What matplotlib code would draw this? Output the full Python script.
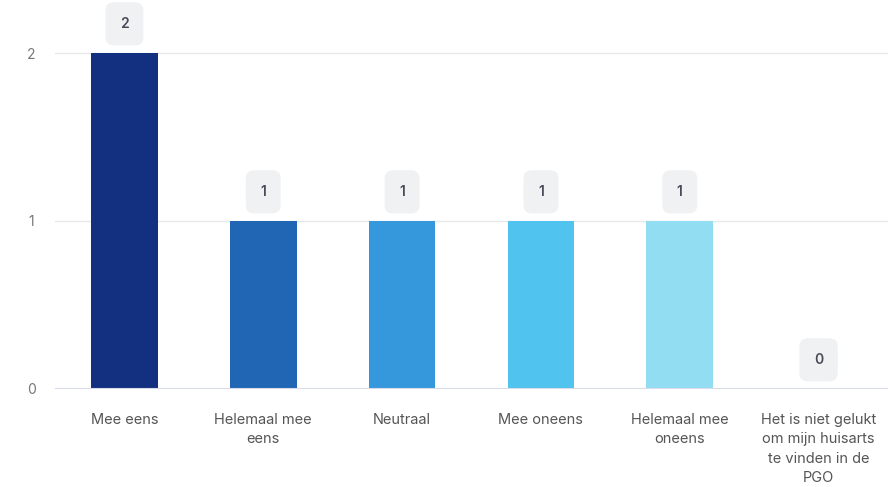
import matplotlib.pyplot as plt

categories = ['Mee eens', 'Helemaal mee\neens', 'Neutraal', 'Mee oneens',
              'Helemaal mee\noneens', 'Het is niet gelukt\nom mijn huisarts\nte vinden in de\nPGO']
values = [2, 1, 1, 1, 1, 0]
colors = ['#12307f', '#2166b5', '#3598dc', '#50c3ee', '#93ddf3', '#c9eefa']

plt.rcParams['font.family'] = ['Inter', 'DejaVu Sans']

fig = plt.figure(figsize=(8.9, 4.87), dpi=100)
ax = fig.add_axes([55 / 890, (487 - 389) / 487, (888 - 55) / 890, 389 / 487])

x = range(len(categories))
ax.bar(x, values, width=0.48, color=colors, zorder=3)

ax.set_xlim(-0.5, len(categories) - 0.5)
ax.set_ylim(0, 2 + 53 / 168)
ax.set_yticks([0, 1, 2])
ax.grid(axis='y', color='#e8e8e8', linewidth=1, zorder=0)
ax.axhline(0, color='#d8dcea', linewidth=1.5, zorder=4)

for s in ax.spines.values():
    s.set_visible(False)
ax.tick_params(axis='both', length=0)
ax.tick_params(axis='y', labelsize=10, labelcolor='#777777', pad=17)
ax.set_xticks(list(x))
ax.set_xticklabels(categories, fontsize=10.5, color='#555555', linespacing=1.5)
ax.tick_params(axis='x', pad=17)
for lbl in ax.get_yticklabels():
    lbl.set_horizontalalignment('center')

# value labels in grey boxes
for xi, v in zip(x, values):
    ax.annotate(str(v), (xi, v), xytext=(0, 21), textcoords='offset points',
                ha='center', va='center', fontsize=10, fontweight='semibold',
                color='#4a4a5a', zorder=5, annotation_clip=False,
                bbox=dict(boxstyle='round,pad=1.05,rounding_size=0.6',
                          fc='#f0f1f2', ec='none'))

fig.savefig('out.png', dpi=100)
